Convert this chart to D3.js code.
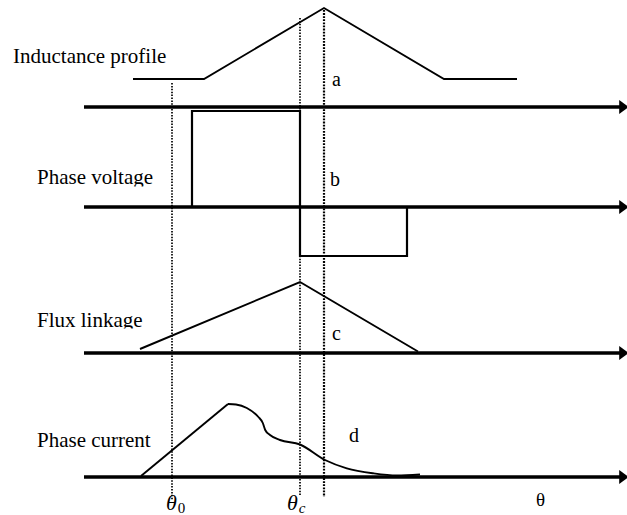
<!DOCTYPE html>
<html>
<head>
<meta charset="utf-8">
<script src="https://cdn.jsdelivr.net/npm/d3@7/dist/d3.min.js"></script>
<style>
  html, body { margin: 0; padding: 0; background: #fff; }
  svg { display: block; }
  text { font-family: "Liberation Serif", "Times New Roman", serif; fill: #000; }
</style>
</head>
<body>
<svg id="chart" width="627" height="515"></svg>
<script>
// Rotor angle (deg) and normalised waveform values for one SRM stroke
const inductance = [[12.25, 0.28], [30, 0.28], [60, 0.99], [90, 0.28], [108.25, 0.28]];
const voltage = [[27, 0], [27, 0.96], [54, 0.96], [54, 0], [54, -0.49], [80.75, -0.49], [80.75, 0]];
const flux = [[14, 0.04], [54, 0.71], [83.5, 0.015]];
const currentRise = [[14.25, 0.01], [36, 0.73]];
const currentFall = [[36, 0.73], [38, 0.725], [40.7, 0.69], [43.6, 0.6], [44.7, 0.54], [45.3, 0.47],
                     [46.5, 0.42], [49, 0.37], [54, 0.325], [60.25, 0.17], [65.7, 0.087],
                     [72.3, 0.037], [78.2, 0.015], [84, 0.025]];
const panelNames = ["Inductance profile", "Phase voltage", "Flux linkage", "Phase current"];
const panelTags = ["a", "b", "c", "d"];
const markerAngles = [22, 54, 60];   // θ0, θc, aligned position
const angleLabels = ["θ", "θ", "θ"];
const angleSubs = ["0", "c", ""];

const svg = d3.select("#chart");
const x = d3.scaleLinear().domain([0, 136]).range([84, 628]);

// one baseline per stacked panel
const baselines = [107, 207, 353, 477];
const y = baselines.map(b => d3.scaleLinear().domain([0, 1]).range([b, b - 100]));

const line = (ys, curve) => d3.line().x(d => x(d[0])).y(d => ys(d[1])).curve(curve || d3.curveLinear);

// clip boxes for the boxed labels
const defs = svg.append("defs");
defs.append("clipPath").attr("id", "clipV").append("rect").attr("x", 0).attr("y", 150).attr("width", 200).attr("height", 36.5);
defs.append("clipPath").attr("id", "clipF").append("rect").attr("x", 0).attr("y", 290).attr("width", 200).attr("height", 38.5);

// dotted angle markers
const markerSpans = [[83, 500], [18, 495], [10, 497]];
svg.selectAll("line.marker").data(markerAngles).join("line")
  .attr("class", "marker")
  .attr("x1", d => x(d)).attr("x2", d => x(d))
  .attr("y1", (d, i) => markerSpans[i][0]).attr("y2", (d, i) => markerSpans[i][1])
  .attr("stroke", "#000")
  .attr("stroke-width", (d, i) => i === 2 ? 2.2 : 1.7)
  .attr("stroke-dasharray", (d, i) => i === 2 ? "1.8,1.3" : "1.5,1.4");

// axes with arrowheads
baselines.forEach(b => {
  svg.append("line")
    .attr("x1", x(0)).attr("x2", x(134))
    .attr("y1", b).attr("y2", b)
    .attr("stroke", "#000").attr("stroke-width", 3.4);
  svg.append("path")
    .attr("d", `M${x(133.8)},${b - 7}L${x(136.2)},${b}L${x(133.8)},${b + 7}Z`)
    .attr("fill", "#000");
});

const wave = (d, ys, curve, w) => svg.append("path")
  .attr("d", line(ys, curve)(d))
  .attr("fill", "none").attr("stroke", "#000")
  .attr("stroke-width", w || 1.9).attr("stroke-linejoin", "miter");

wave(inductance, y[0]);
wave(voltage, y[1], d3.curveLinear, 2.2);
wave(flux, y[2]);
wave(currentRise, y[3]);
wave(currentFall, y[3], d3.curveMonotoneX);

// panel titles
const titlePos = [[13, 63], [37, 184], [37, 327], [37, 447]];
const clips = [null, "url(#clipV)", "url(#clipF)", null];
panelNames.forEach((t, i) => {
  svg.append("text")
    .attr("x", titlePos[i][0]).attr("y", titlePos[i][1])
    .attr("font-size", 21)
    .attr("clip-path", clips[i])
    .text(t);
});

// panel tags a–d
const tagPos = [[332, 86], [330, 186], [332, 340], [349, 442]];
panelTags.forEach((t, i) => {
  svg.append("text")
    .attr("x", tagPos[i][0]).attr("y", tagPos[i][1])
    .attr("font-size", 20)
    .text(t);
});

// angle labels under the bottom axis
const angleLabelPos = [[166, 510], [287, 510], [536, 506]];
angleLabels.forEach((t, i) => {
  const g = svg.append("text")
    .attr("x", angleLabelPos[i][0]).attr("y", angleLabelPos[i][1])
    .attr("font-size", i < 2 ? 22 : 19)
    .attr("font-style", i < 2 ? "italic" : "normal");
  g.append("tspan").text(t);
  if (angleSubs[i]) {
    g.append("tspan").attr("dy", 3).attr("dx", 1).attr("font-size", 15).attr("font-style", i === 1 ? "italic" : "normal").text(angleSubs[i]);
  }
});
</script>
</body>
</html>
